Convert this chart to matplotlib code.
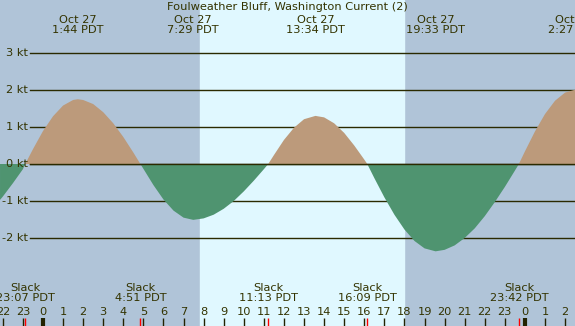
import matplotlib
matplotlib.use("Agg")
import matplotlib.pyplot as plt
import matplotlib.transforms as mtransforms

# hours relative to midnight Oct 27 (PDT), current speed in knots
hours = [-2.14, -2.0, -1.5, -1.0, -0.883, -0.5, 0.0, 0.5, 1.0, 1.5, 1.733, 2.0, 2.5, 3.0,
         3.5, 4.0, 4.5, 4.85, 5.0, 5.5, 6.0, 6.5, 7.0, 7.483, 8.0, 8.5, 9.0, 9.5, 10.0,
         10.5, 11.0, 11.217, 11.5, 12.0, 12.5, 13.0, 13.567, 14.0, 14.5, 15.0, 15.5, 16.0,
         16.15, 16.5, 17.0, 17.5, 18.0, 18.5, 19.0, 19.55, 20.0, 20.5, 21.0, 21.5, 22.0,
         22.5, 23.0, 23.5, 23.7, 24.0, 24.5, 25.0, 25.5, 26.0, 26.45, 26.5]
speed = [-0.97, -0.88, -0.52, -0.14, 0.0, 0.40, 0.89, 1.29, 1.58, 1.73, 1.75, 1.73, 1.62, 1.40,
         1.10, 0.73, 0.31, 0.0, -0.13, -0.57, -0.96, -1.26, -1.45, -1.51, -1.47, -1.37, -1.21, -1.00, -0.74,
         -0.45, -0.14, 0.0, 0.24, 0.65, 0.98, 1.21, 1.30, 1.26, 1.10, 0.84, 0.50, 0.12,
         0.0, -0.38, -0.90, -1.37, -1.77, -2.08, -2.28, -2.36, -2.32, -2.20, -2.00, -1.74, -1.41,
         -1.03, -0.62, -0.18, 0.0, 0.34, 0.88, 1.35, 1.71, 1.93, 2.0, 2.0]

max_hours = [1.733, 7.483, 13.567, 19.55, 26.45]
max_labels = ["Oct 27\n1:44 PDT", "Oct 27\n7:29 PDT", "Oct 27\n13:34 PDT",
              "Oct 27\n19:33 PDT", "Oct 28\n2:27 PDT"]
slack_hours = [-0.883, 4.85, 11.217, 16.15, 23.7]
slack_labels = ["Slack\n23:07 PDT", "Slack\n4:51 PDT", "Slack\n11:13 PDT",
                "Slack\n16:09 PDT", "Slack\n23:42 PDT"]
sunrise, sunset = 7.82, 17.98
kt_levels = [-2, -1, 0, 1, 2, 3]
title = "Foulweather Bluff, Washington Current (2)"

night_col = "#b0c4d8"
day_col = "#e0f8ff"
flood_col = "#bc9a7b"
ebb_col = "#4f9470"
text_col = "#333300"
fs = 8.2

W, H = 575, 326
fig = plt.figure(figsize=(W / 100, H / 100), dpi=100)
ax = fig.add_axes([0, 0, 1, 1])
x0, x1 = -2.141, 26.494
y0, y1 = -4.378, 4.432
ax.set_xlim(x0, x1)
ax.set_ylim(y0, y1)
ax.axis("off")
fig.patch.set_facecolor(night_col)

ax.axvspan(x0, x1, color=night_col, zorder=0)
ax.axvspan(sunrise, sunset, color=day_col, zorder=0.5)

# grid lines for each knot level
for k in kt_levels:
    ax.axhline(k, xmin=30 / W, xmax=1, color="#2a2a00", lw=1.0, zorder=1)
    ax.text(28 / W, k, f"{k} kt", transform=ax.get_yaxis_transform(),
            ha="right", va="center", fontsize=fs, color=text_col)

zero = [0] * len(speed)
ax.fill_between(hours, speed, zero, where=[s >= 0 for s in speed], interpolate=True,
                color=flood_col, lw=0, zorder=2)
ax.fill_between(hours, speed, zero, where=[s <= 0 for s in speed], interpolate=True,
                color=ebb_col, lw=0, zorder=2)
ax.axhline(0, xmin=30 / W, xmax=1, color="#2a2a00", lw=1.0, zorder=3)

# title and max-current labels at the top
trans_top = mtransforms.blended_transform_factory(ax.transData, fig.transFigure)
fig.text(0.5, 1 - 7 / H, title, ha="center", va="center", fontsize=fs, color=text_col)
for h, lab in zip(max_hours, max_labels):
    ax.text(h, 1 - 25 / H, lab, transform=trans_top, ha="center", va="center",
            fontsize=fs, color=text_col, linespacing=1.0)

# slack labels at the bottom
for h, lab in zip(slack_hours, slack_labels):
    ax.text(h, 1 - 293 / H, lab, transform=trans_top, ha="center", va="center",
            fontsize=fs, color=text_col, linespacing=1.0)

# hour ticks and labels
tick_len = 8 / H
for hr in range(-2, 27):
    ax.text(hr, 1 - 312 / H, str(hr % 24), transform=trans_top, ha="center", va="center",
            fontsize=fs, color=text_col)
    lw = 3 if hr % 24 == 0 else 1
    ax.plot([hr, hr], [0, tick_len], transform=trans_top, color="#222200", lw=lw,
            solid_capstyle="butt", zorder=4)
for h in slack_hours:
    ax.plot([h, h], [0, tick_len], transform=trans_top, color="red", lw=1,
            solid_capstyle="butt", zorder=5)

fig.savefig("out.png", dpi=100, facecolor=night_col)
